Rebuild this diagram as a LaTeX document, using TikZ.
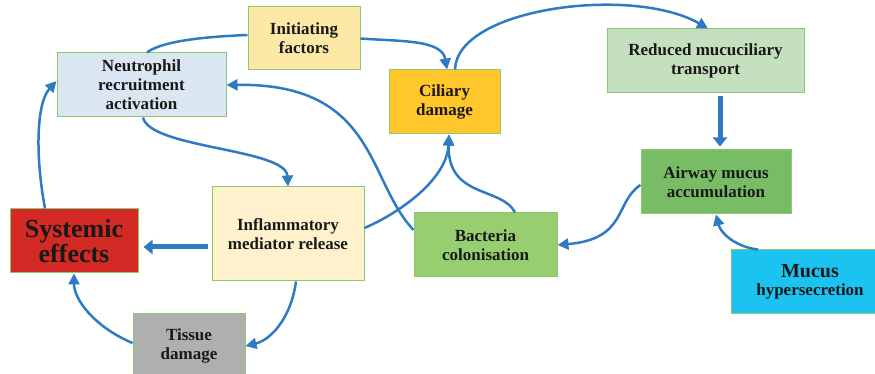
\documentclass[tikz,border=0pt]{standalone}
\usepackage{fontspec}
\setmainfont{Liberation Serif}
\usepackage{tikz}
\usetikzlibrary{arrows.meta,positioning}

\definecolor{boxline}{RGB}{140,200,115}
\definecolor{arrowblue}{RGB}{46,123,196}
\definecolor{initfill}{RGB}{253,232,165}
\definecolor{neutfill}{RGB}{218,230,242}
\definecolor{cilfill}{RGB}{255,199,44}
\definecolor{redfill}{RGB}{197,224,190}
\definecolor{airfill}{RGB}{120,188,102}
\definecolor{sysfill}{RGB}{211,42,37}
\definecolor{inflfill}{RGB}{254,241,204}
\definecolor{bactfill}{RGB}{151,206,112}
\definecolor{mucfill}{RGB}{28,194,240}
\definecolor{tisfill}{RGB}{175,175,175}

\begin{document}
\begin{tikzpicture}[x=1pt, y=1pt,
    box/.style={rectangle, draw=boxline, line width=1pt, align=center, inner sep=0pt,
      text=black!90, font=\fontsize{17}{19}\selectfont\bfseries},
    flow/.style={draw=arrowblue, line width=2.5pt, -{Triangle[length=11pt,width=11pt]}},
    bigflow/.style={draw=arrowblue, line width=5pt, -{Triangle[length=9pt,width=14pt]}}]

  \useasboundingbox (0,0) rectangle (875,374);

  % Define nodes
  \node[box, fill=sysfill, minimum width=128pt, minimum height=64pt,
    font=\fontsize{26}{25}\selectfont\bfseries] at (74,133) (sys) {Systemic\\effects};

  \node[box, fill=inflfill, minimum width=152pt, minimum height=94pt,
    right=73pt of sys, yshift=7pt] (infl) {Inflammatory\\mediator release};
  \node[box, fill=tisfill, minimum width=112pt, minimum height=64pt,
    below=40pt of sys, xshift=115pt] (tis) {Tissue\\damage};
  \node[box, fill=neutfill, minimum width=169pt, minimum height=64pt,
    above=91pt of sys, xshift=67.5pt] (neut) {Neutrophil\\recruitment\\activation};

  \node[box, fill=initfill, minimum width=112pt, minimum height=63pt,
    right=21pt of neut, yshift=46.5pt] (init) {Initiating\\factors};
  \node[box, fill=cilfill, minimum width=111pt, minimum height=64pt,
    right=28pt of init, yshift=-63.5pt] (cil) {Ciliary\\damage};
  \node[box, fill=bactfill, minimum width=143pt, minimum height=64pt,
    right=49pt of infl, yshift=-11pt] (bact) {Bacteria\\colonisation};

  \node[box, fill=redfill, minimum width=197pt, minimum height=64pt,
    right=106pt of cil, yshift=41pt] (red) {Reduced mucuciliary\\transport};
  \node[box, fill=airfill, minimum width=150pt, minimum height=64pt,
    below=56pt of red, xshift=10.5pt] (air) {Airway mucus\\accumulation};
  \node[box, fill=mucfill, minimum width=158pt, minimum height=64pt,
    below=35pt of air, xshift=94pt] (muc) {{\fontsize{20}{21}\selectfont Mucus}\\[-1pt]hypersecretion};

  % upper loop
  \draw[flow] (init.east) .. controls +(40,-3) and +(-5,30) .. ([xshift=2.5pt]cil.north);
  \draw[draw=arrowblue, line width=2.5pt] ([yshift=3.5pt]init.west)
    .. controls +(-52,-2) and +(13,10) .. ([xshift=5.5pt]neut.north);
  \draw[flow] ([xshift=10.5pt]cil.north) .. controls +(2,62) and +(-75,43) .. ([xshift=2.5pt]red.north);
  \draw[bigflow, shorten <=3pt, shorten >=3pt] ([xshift=14.5pt]red.south) -- ([xshift=14.5pt]red.south |- air.north);
  \draw[flow] ([yshift=-3pt]air.west) .. controls +(-26,-17) and +(70,6) .. (bact.east);
  \draw[flow] ([xshift=-52pt]muc.north) .. controls +(-20,2) and +(5,-20) .. (air.south);

  % into ciliary damage
  \draw[flow] ([xshift=29.5pt]bact.north) .. controls +(-13,26) and +(-2,-64) .. ([xshift=4.5pt]cil.south);
  \draw[flow] ([yshift=6pt]infl.east) .. controls +(37,16) and +(-2,-44) .. ([xshift=4.5pt]cil.south);

  % lower loop
  \draw[flow] ([yshift=15pt]bact.west) .. controls +(-47,50) and +(150,2) .. (neut.east);
  \draw[flow] ([xshift=1.5pt]neut.south) .. controls +(7,-31) and +(-2,38) .. (infl.north);
  \draw[bigflow, shorten <=4pt, shorten >=5pt] ([yshift=-13pt]infl.west) -- ([yshift=-6pt]sys.east);
  \draw[flow] ([xshift=8pt]infl.south) .. controls +(-5,-37) and +(25,6) .. (tis.east);
  \draw[flow] ([yshift=3pt]tis.west) .. controls +(-38,16) and +(0,-26) .. (sys.south);
  \draw[flow] ([xshift=-29pt]sys.north) .. controls +(-10,54) and +(-20,-22) .. ([yshift=4pt]neut.west);

\end{tikzpicture}
\end{document}
